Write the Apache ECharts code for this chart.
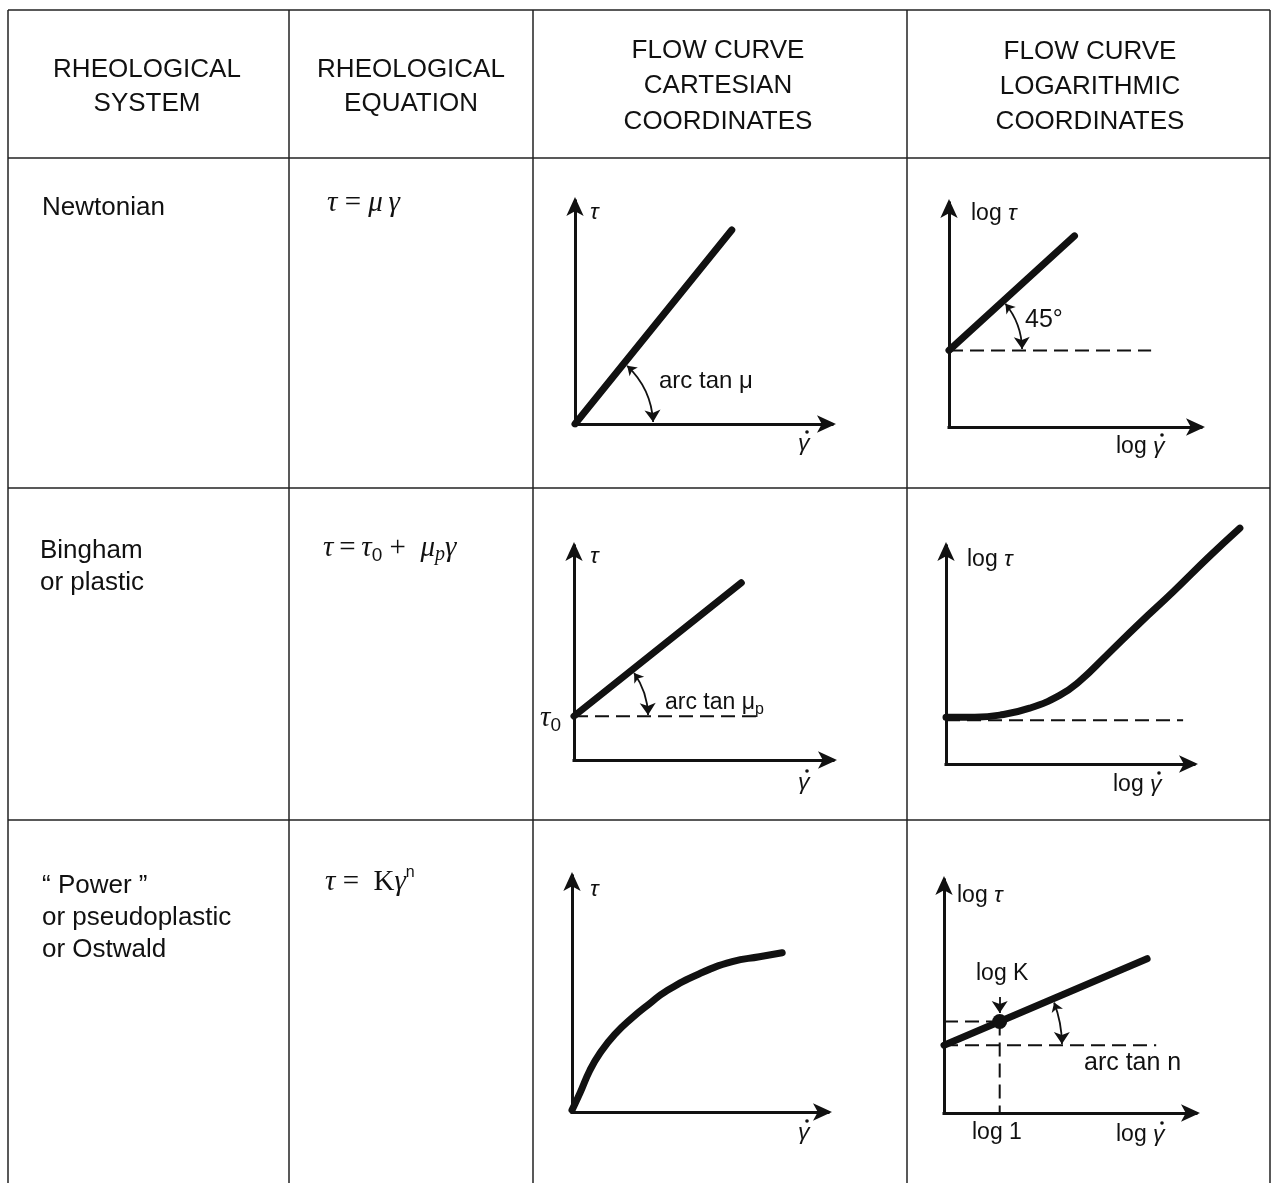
<!DOCTYPE html>
<html>
<head>
<meta charset="utf-8">
<script src="https://cdn.jsdelivr.net/npm/echarts@6/dist/echarts.min.js"></script>
<style>
  html, body { margin: 0; background: #fff; }
  #chart { width: 1272px; height: 1183px; }
</style>
</head>
<body>
<div id="chart"></div>
<script>
// ---------- data (each small plot uses its own 0..100 axes) ----------
// Newtonian, cartesian
const newtonCart = [[0, 0], [61, 87]];
const newtonCartArc = [[20.3, 26.1], [30.4, 0.9]];
// Newtonian, log
const newtonLog = [[0, 34.2], [49.8, 85.3]];
const newtonLogBase = [[0, 34.2], [80.2, 34.2]];
const newtonLogArc = [[22.4, 55.0], [29.0, 34.8]];
// Bingham, cartesian
const binghamCart = [[0, 20.5], [64.6, 82.8]];
const binghamCartBase = [[0, 20.5], [71.5, 20.5]];
const binghamCartArc = [[23.2, 40.7], [28.6, 21.0]];
// Bingham, log (runs past the arrow tips, drawn on an overlay grid with the same scale)
const binghamLog = [[0, 21.5], [11.6, 21.5], [21.7, 22.4], [33.7, 25.6], [45.8, 31.5], [53.8, 37.9],
  [64.7, 49.8], [77.9, 64.4], [91.6, 79.0], [106, 95], [118.5, 108.2]];
const binghamLogBase = [[0, 20.1], [95.6, 20.1]];
// Power, cartesian
const powerCart = [[0, 0.8], [3.1, 8.0], [7.0, 17.7], [10.9, 24.9], [16.7, 32.9], [23.7, 40.1],
  [30.4, 46.0], [36.6, 51.1], [49.8, 58.6], [62.6, 63.7], [73.2, 65.8], [82.1, 67.5]];
// Power, log
const powerLog = [[0, 29.1], [80.6, 66.2]];
const powerLogBase = [[0, 29.1], [84.2, 29.1]];
const powerLogK = [22.1, 39.3];
const powerLogKh = [[0, 39.3], [22.1, 39.3]];
const powerLogKv = [[22.1, 39.3], [22.1, 0]];
const powerLogKArrow = [[22.1, 49.8], [22.1, 42.9]];
const powerLogArc = [[43.7, 47.4], [46.8, 29.6]];

// ---------- layout ----------
const grids = [
  { left: 575, top: 201, width: 257, height: 223 },
  { left: 949, top: 203, width: 252, height: 224 },
  { left: 574, top: 546, width: 259, height: 214 },
  { left: 946, top: 546, width: 248, height: 218 },
  { left: 572, top: 876, width: 256, height: 236 },
  { left: 944, top: 880, width: 252, height: 233 },
  // overlay for the Bingham log curve: same scale as grid 3, x to 120, y to 115
  { left: 946, top: 764 - 218 * 1.15, width: 248 * 1.2, height: 218 * 1.15 }
];

const INK = '#111';
const SANS = '"Liberation Sans", Arial, "DejaVu Sans", sans-serif';
const SERIF = '"Liberation Serif", "DejaVu Serif", serif';

function axis(i) {
  return {
    type: 'value', gridIndex: i, min: 0, max: 100,
    axisLine: {
      show: true, onZero: false,
      symbol: ['none', 'arrow'], symbolSize: [13, 19], symbolOffset: [0, 4],
      lineStyle: { color: INK, width: 3, cap: 'square' }
    },
    axisTick: { show: false }, axisLabel: { show: false }, splitLine: { show: false }
  };
}
function hiddenAxis(max) {
  return { type: 'value', gridIndex: 6, min: 0, max, show: false };
}

function thick(i, data, smooth) {
  return {
    type: 'line', xAxisIndex: i, yAxisIndex: i, data, showSymbol: false, silent: true,
    smooth: smooth || false, z: 3,
    lineStyle: { color: INK, width: 7, cap: 'round', join: 'round' }
  };
}

function dashed(i, data) {
  return {
    type: 'line', xAxisIndex: i, yAxisIndex: i, data, showSymbol: false, silent: true, z: 1,
    lineStyle: { color: INK, width: 2, type: [14, 7] }
  };
}

function arrowLine(i, pts, curveness, both) {
  return {
    type: 'lines', coordinateSystem: 'cartesian2d', xAxisIndex: i, yAxisIndex: i, silent: true, z: 4,
    symbol: both ? ['arrow', 'arrow'] : ['none', 'arrow'], symbolSize: [9, 12],
    lineStyle: { color: INK, width: 1.8, curveness, opacity: 1 },
    data: [{ coords: pts }]
  };
}

const series = [
  thick(0, newtonCart), arrowLine(0, newtonCartArc, 0.2, true),
  dashed(1, newtonLogBase), thick(1, newtonLog), arrowLine(1, newtonLogArc, 0.17, true),
  dashed(2, binghamCartBase), thick(2, binghamCart), arrowLine(2, binghamCartArc, 0.15, true),
  dashed(3, binghamLogBase), thick(6, binghamLog, 0.5),
  thick(4, powerCart, 0.5),
  dashed(5, powerLogBase), dashed(5, powerLogKh), dashed(5, powerLogKv), thick(5, powerLog),
  {
    type: 'scatter', xAxisIndex: 5, yAxisIndex: 5, data: [powerLogK], symbolSize: 15, silent: true, z: 5,
    itemStyle: { color: INK, opacity: 1 }
  },
  arrowLine(5, powerLogKArrow, 0, false), arrowLine(5, powerLogArc, 0.09, true)
];

// ---------- table and text ----------
const hLines = [[8, 10, 1270, 10], [8, 158, 1270, 158], [8, 488, 1270, 488], [8, 820, 1270, 820]];
const vLines = [[8, 10, 8, 1183], [289, 10, 289, 1183], [533, 10, 533, 1183], [907, 10, 907, 1183], [1270, 10, 1270, 1183]];

const rich = {
  i: { fontFamily: SANS, fontStyle: 'italic', fontSize: 23, lineHeight: 30, verticalAlign: 'middle' },
  r: { fontFamily: SANS, fontSize: 23, lineHeight: 30, verticalAlign: 'middle' },
  s: { fontFamily: SANS, fontSize: 16, lineHeight: 30, verticalAlign: 'bottom' },
  ei: { fontFamily: SERIF, fontStyle: 'italic', fontSize: 29, lineHeight: 34, verticalAlign: 'middle' },
  er: { fontFamily: SERIF, fontSize: 29, lineHeight: 34, verticalAlign: 'middle' },
  es: { fontFamily: SANS, fontSize: 19, lineHeight: 34, verticalAlign: 'bottom' },
  esi: { fontFamily: SERIF, fontStyle: 'italic', fontSize: 20, lineHeight: 34, verticalAlign: 'bottom' },
  eu: { fontFamily: SANS, fontSize: 16, lineHeight: 34, verticalAlign: 'top' }
};

// [x, y, text, align, lineHeight, fontSize]
const texts = [
  // header
  [147, 87, 'RHEOLOGICAL\nSYSTEM', 'center', 34, 26],
  [411, 87, 'RHEOLOGICAL\nEQUATION', 'center', 34, 26],
  [718, 86, 'FLOW CURVE\nCARTESIAN\nCOORDINATES', 'center', 35.5, 26],
  [1090, 87, 'FLOW CURVE\nLOGARITHMIC\nCOORDINATES', 'center', 35, 26],
  // systems
  [42, 208, 'Newtonian', 'left', 32, 26],
  [40, 567, 'Bingham\nor plastic', 'left', 32, 26],
  [42, 918, '\u201c Power \u201d\nor pseudoplastic\nor Ostwald', 'left', 32, 26],
  // equations
  [327, 203, '{ei|\u03c4}{er| = }{ei|\u03bc\u2009\u03b3}', 'left', 34, 29],
  [323, 548, '{ei|\u03c4}{er|\u2009=\u2009}{ei|\u03c4}{es|0}{er| +  }{ei|\u03bc}{esi|p}{ei|\u03b3}', 'left', 34, 29],
  [325, 882, '{ei|\u03c4}{er| =  K}{ei|\u03b3}{eu|n}', 'left', 34, 29],
  // plot labels
  [590, 213, '{i|\u03c4}', 'left', 30, 23],
  [798, 444, '{i|\u03b3}', 'left', 30, 23],
  [659, 381, 'arc tan \u03bc', 'left', 30, 24],
  [971, 214, '{r|log }{i|\u03c4}', 'left', 30, 23],
  [1025, 320, '45\u00b0', 'left', 30, 25],
  [1116, 447, '{r|log }{i|\u03b3}', 'left', 30, 23],
  [590, 557, '{i|\u03c4}', 'left', 30, 23],
  [540, 718, '{ei|\u03c4}{es|0}', 'left', 30, 23],
  [665, 703, '{r|arc tan \u03bc}{s|p}', 'left', 30, 24],
  [798, 783, '{i|\u03b3}', 'left', 30, 23],
  [967, 560, '{r|log }{i|\u03c4}', 'left', 30, 23],
  [1113, 785, '{r|log }{i|\u03b3}', 'left', 30, 23],
  [590, 890, '{i|\u03c4}', 'left', 30, 23],
  [798, 1133, '{i|\u03b3}', 'left', 30, 23],
  [957, 896, '{r|log }{i|\u03c4}', 'left', 30, 23],
  [976, 974, 'log K', 'left', 30, 23],
  [1084, 1063, 'arc tan n', 'left', 30, 25],
  [972, 1133, 'log 1', 'left', 30, 23],
  [1116, 1135, '{r|log }{i|\u03b3}', 'left', 30, 23]
];
// the dot of each gamma-dot label
const gammaDots = [[807, 432], [1162, 435], [807, 771], [1159, 773], [807, 1121], [1162, 1123]];

const graphic = [];
hLines.concat(vLines).forEach(([x1, y1, x2, y2]) => {
  graphic.push({ type: 'line', silent: true, shape: { x1, y1, x2, y2 }, style: { stroke: '#222', lineWidth: 1.5 } });
});
texts.forEach(([x, y, text, align, lh, fs]) => {
  graphic.push({
    type: 'text', x, y, silent: true,
    style: {
      text, align, verticalAlign: 'middle', fill: INK, lineHeight: lh,
      fontFamily: SANS, fontSize: fs, rich
    }
  });
});
gammaDots.forEach(([cx, cy]) => {
  graphic.push({ type: 'circle', silent: true, shape: { cx, cy, r: 1.8 }, style: { fill: INK } });
});

const chart = echarts.init(document.getElementById('chart'));
chart.setOption({
  animation: false,
  backgroundColor: '#fff',
  grid: grids,
  xAxis: grids.slice(0, 6).map((g, i) => axis(i)).concat([hiddenAxis(120)]),
  yAxis: grids.slice(0, 6).map((g, i) => axis(i)).concat([hiddenAxis(115)]),
  series,
  graphic
});
</script>
</body>
</html>
